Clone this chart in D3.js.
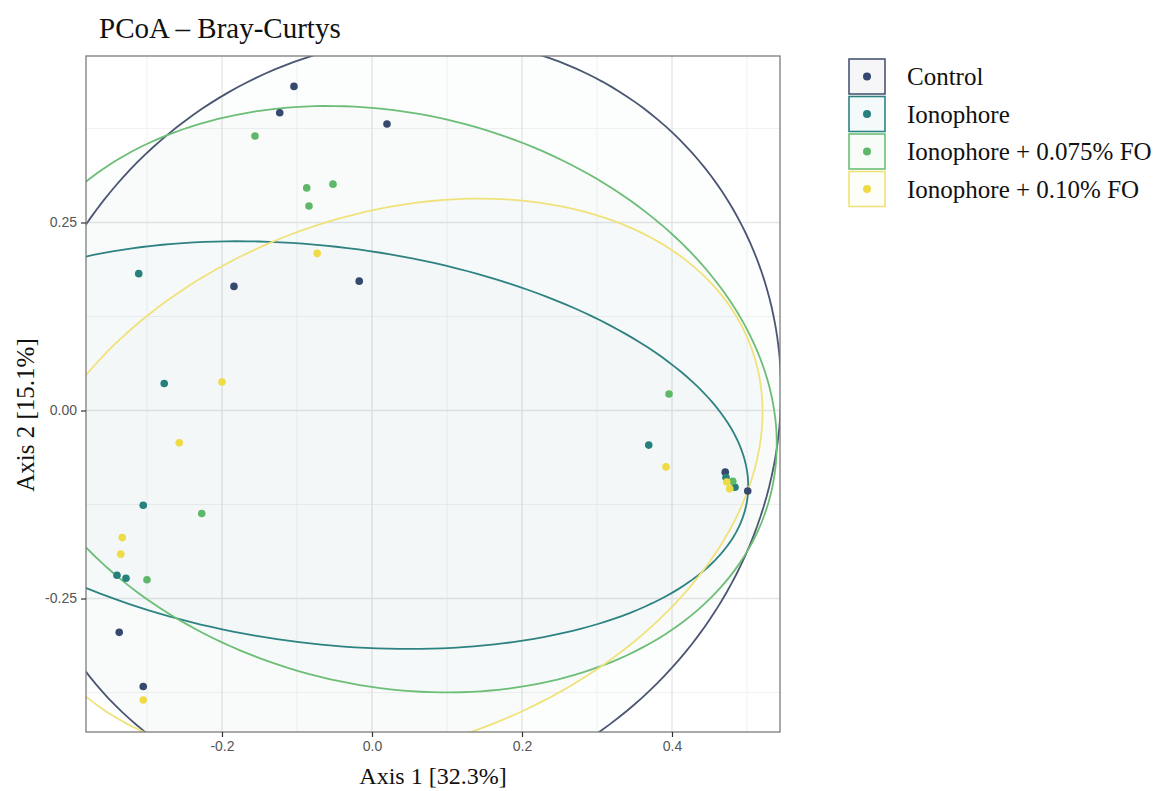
<!DOCTYPE html>
<html>
<head>
<meta charset="utf-8">
<script src="https://cdn.jsdelivr.net/npm/d3@7"></script>
<style>
  body { margin: 0; background: #ffffff; }
  svg { display: block; }
</style>
</head>
<body>
<svg id="chart" width="1159" height="791"></svg>
<script>
// Treatment groups, in legend order
const groupNames = ["Control", "Ionophore", "Ionophore + 0.075% FO", "Ionophore + 0.10% FO"];

// PCoA sample scores (Axis 1, Axis 2) per group
const controlAxis1 = [-0.104, -0.123, 0.020, -0.184, -0.017, -0.337, -0.305, 0.471, 0.501];
const controlAxis2 = [0.431, 0.396, 0.381, 0.165, 0.172, -0.295, -0.367, -0.082, -0.107];
const ionophoreAxis1 = [-0.311, -0.277, -0.305, -0.340, -0.328, 0.369, 0.472, 0.484];
const ionophoreAxis2 = [0.182, 0.036, -0.126, -0.219, -0.223, -0.046, -0.089, -0.102];
const fo075Axis1 = [-0.156, -0.087, -0.052, -0.084, -0.227, -0.300, 0.396, 0.481];
const fo075Axis2 = [0.365, 0.296, 0.301, 0.272, -0.137, -0.225, 0.022, -0.094];
const fo010Axis1 = [-0.073, -0.200, -0.257, -0.333, -0.335, -0.305, 0.392, 0.473, 0.477];
const fo010Axis2 = [0.209, 0.038, -0.043, -0.169, -0.191, -0.385, -0.075, -0.095, -0.104];

// Confidence ellipse per group: centre, semi-axes and tilt (degrees)
const ellipseCentre1 = [0.034, -0.065, 0.021, 0.022];
const ellipseCentre2 = [-0.016, -0.046, 0.015, -0.093];
const ellipseMajor = [0.532, 0.570, 0.526, 0.515];
const ellipseMinor = [0.490, 0.264, 0.380, 0.352];
const ellipseAngle = [45, -7, -13.9, 20];

// Axis ticks
const xTicks = [-0.2, 0.0, 0.2, 0.4];
const xTickLabels = ["-0.2", "0.0", "0.2", "0.4"];
const yTicks = [-0.25, 0.0, 0.25];
const yTickLabels = ["-0.25", "0.00", "0.25"];
const xMinorTicks = [-0.3, -0.1, 0.1, 0.3, 0.5];
const yMinorTicks = [-0.375, -0.125, 0.125, 0.375];

const pointColours = ["#37486e", "#26807b", "#5fb869", "#eedb45"];
const lineColours = ["#4a5672", "#2e8282", "#6cbe76", "#f0e27a"];

const scoresAxis1 = [controlAxis1, ionophoreAxis1, fo075Axis1, fo010Axis1];
const scoresAxis2 = [controlAxis2, ionophoreAxis2, fo075Axis2, fo010Axis2];

const points = [];
groupNames.forEach((g, gi) => {
  scoresAxis1[gi].forEach((v, i) => points.push({ group: gi, a1: v, a2: scoresAxis2[gi][i] }));
});

const svg = d3.select("#chart");
const panel = { left: 86, right: 780, top: 56, bottom: 732 };

const x = d3.scaleLinear().domain([-0.3813, 0.544]).range([panel.left, panel.right]);
const y = d3.scaleLinear().domain([-0.4275, 0.4714]).range([panel.bottom, panel.top]);

svg.append("defs").append("clipPath").attr("id", "panel-clip")
  .append("rect")
  .attr("x", panel.left).attr("y", panel.top)
  .attr("width", panel.right - panel.left).attr("height", panel.bottom - panel.top);

// panel background
svg.append("rect")
  .attr("x", panel.left).attr("y", panel.top)
  .attr("width", panel.right - panel.left).attr("height", panel.bottom - panel.top)
  .attr("fill", "#ffffff");

// grid
const grid = svg.append("g");
grid.selectAll(".vminor").data(xMinorTicks).join("line")
  .attr("x1", d => x(d)).attr("x2", d => x(d))
  .attr("y1", panel.top).attr("y2", panel.bottom)
  .attr("stroke", "#f1f1f1").attr("stroke-width", 1);
grid.selectAll(".hminor").data(yMinorTicks).join("line")
  .attr("y1", d => y(d)).attr("y2", d => y(d))
  .attr("x1", panel.left).attr("x2", panel.right)
  .attr("stroke", "#f1f1f1").attr("stroke-width", 1);
grid.selectAll(".vmajor").data(xTicks).join("line")
  .attr("x1", d => x(d)).attr("x2", d => x(d))
  .attr("y1", panel.top).attr("y2", panel.bottom)
  .attr("stroke", "#e6e6e6").attr("stroke-width", 1.4);
grid.selectAll(".hmajor").data(yTicks).join("line")
  .attr("y1", d => y(d)).attr("y2", d => y(d))
  .attr("x1", panel.left).attr("x2", panel.right)
  .attr("stroke", "#e6e6e6").attr("stroke-width", 1.4);

// ellipses
function ellipsePath(gi) {
  const t = ellipseAngle[gi] * Math.PI / 180;
  const pts = d3.range(0, 241).map(k => {
    const s = k / 240 * 2 * Math.PI;
    const u = ellipseMajor[gi] * Math.cos(s);
    const v = ellipseMinor[gi] * Math.sin(s);
    return [x(ellipseCentre1[gi] + u * Math.cos(t) - v * Math.sin(t)),
            y(ellipseCentre2[gi] + u * Math.sin(t) + v * Math.cos(t))];
  });
  return d3.line()(pts) + "Z";
}

const ellG = svg.append("g").attr("clip-path", "url(#panel-clip)");
ellG.selectAll("path.fill").data(groupNames).join("path")
  .attr("d", (d, i) => ellipsePath(i))
  .attr("fill", "#8a9a9a")
  .attr("fill-opacity", 0.022)
  .attr("stroke", "none");
ellG.selectAll("path.line").data(groupNames).join("path")
  .attr("d", (d, i) => ellipsePath(i))
  .attr("fill", "none")
  .attr("stroke", (d, i) => lineColours[i])
  .attr("stroke-width", 1.8);

// sample points
svg.append("g").attr("clip-path", "url(#panel-clip)")
  .selectAll("circle").data(points).join("circle")
  .attr("cx", d => x(d.a1)).attr("cy", d => y(d.a2))
  .attr("r", 3.8)
  .attr("fill", d => pointColours[d.group]);

// panel border
svg.append("rect")
  .attr("x", panel.left).attr("y", panel.top)
  .attr("width", panel.right - panel.left).attr("height", panel.bottom - panel.top)
  .attr("fill", "none").attr("stroke", "#7c7c7c").attr("stroke-width", 1.3);

// axes
const axisFont = "'Liberation Sans', Arial, sans-serif";
const xAxis = svg.append("g").attr("transform", `translate(0,${panel.bottom})`)
  .call(d3.axisBottom(x).tickValues(xTicks).tickSize(5).tickPadding(4)
        .tickFormat((d, i) => xTickLabels[i]));
const yAxis = svg.append("g").attr("transform", `translate(${panel.left},0)`)
  .call(d3.axisLeft(y).tickValues(yTicks).tickSize(5).tickPadding(4)
        .tickFormat((d, i) => yTickLabels[i]));
[xAxis, yAxis].forEach(a => {
  a.select(".domain").remove();
  a.selectAll(".tick line").attr("stroke", "#333333").attr("stroke-width", 1.2);
  a.selectAll(".tick text").attr("fill", "#555555")
    .style("font-family", axisFont).style("font-size", "14px");
});

// titles
const serif = "'Liberation Serif', 'Times New Roman', serif";
svg.append("text")
  .attr("x", 99).attr("y", 38)
  .style("font-family", serif).style("font-size", "29px").attr("fill", "#111")
  .text("PCoA – Bray-Curtys");

svg.append("text")
  .attr("x", (panel.left + panel.right) / 2).attr("y", 784)
  .attr("text-anchor", "middle")
  .style("font-family", serif).style("font-size", "24px").attr("fill", "#111")
  .text("Axis 1 [32.3%]");

svg.append("text")
  .attr("transform", `translate(34,415) rotate(-90)`)
  .attr("text-anchor", "middle")
  .style("font-family", serif).style("font-size", "25px").attr("fill", "#111")
  .text("Axis 2 [15.1%]");

// legend
const legend = svg.append("g").attr("transform", "translate(849,59)");
const keys = legend.selectAll("g").data(groupNames).join("g")
  .attr("transform", (d, i) => `translate(0,${i * 37.5})`);
keys.append("rect")
  .attr("x", 0).attr("y", 0).attr("width", 36).attr("height", 35)
  .attr("fill", (d, i) => lineColours[i]).attr("fill-opacity", 0.05)
  .attr("stroke", (d, i) => lineColours[i]).attr("stroke-width", 1.6);
keys.append("circle")
  .attr("cx", 18).attr("cy", 17.5).attr("r", 4)
  .attr("fill", (d, i) => pointColours[i]);
keys.append("text")
  .attr("x", 58).attr("y", 26)
  .style("font-family", serif).style("font-size", "25px").attr("fill", "#111")
  .text(d => d);
</script>
</body>
</html>
